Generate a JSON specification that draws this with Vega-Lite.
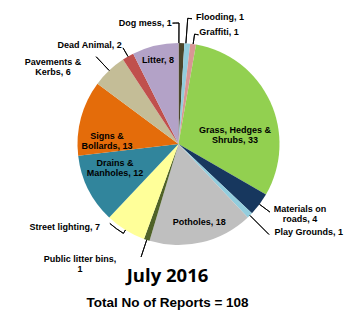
{
  "$schema": "https://vega.github.io/schema/vega-lite/v6.json",
  "width": 333,
  "height": 250,
  "autosize": "none",
  "padding": {"left": 12, "top": 19, "right": 0, "bottom": 46},
  "background": "white",
  "title": {
    "text": "July 2016",
    "subtitle": "Total No of Reports = 108",
    "orient": "bottom",
    "anchor": "middle",
    "dx": -11,
    "offset": -7,
    "font": "Open Sans",
    "fontSize": 18.5,
    "fontWeight": "bold",
    "color": "#000000",
    "subtitleFont": "Liberation Sans",
    "subtitleFontSize": 13.5,
    "subtitleFontWeight": "bold",
    "subtitleColor": "#000000",
    "subtitlePadding": 11
  },
  "data": {
    "values": [
      {"category": "Dog mess", "value": 1, "label": "Dog mess, 1"},
      {"category": "Flooding", "value": 1, "label": "Flooding, 1"},
      {"category": "Graffiti", "value": 1, "label": "Graffiti, 1"},
      {"category": "Grass, Hedges & Shrubs", "value": 33, "label": "Grass, Hedges &\nShrubs, 33"},
      {"category": "Materials on roads", "value": 4, "label": "Materials on\nroads, 4"},
      {"category": "Play Grounds", "value": 1, "label": "Play Grounds, 1"},
      {"category": "Potholes", "value": 18, "label": "Potholes, 18"},
      {"category": "Public litter bins", "value": 1, "label": "Public litter bins,\n1"},
      {"category": "Street lighting", "value": 7, "label": "Street lighting, 7"},
      {"category": "Drains & Manholes", "value": 12, "label": "Drains &\nManholes, 12"},
      {"category": "Signs & Bollards", "value": 13, "label": "Signs &\nBollards, 13"},
      {"category": "Pavements & Kerbs", "value": 6, "label": "Pavements &\nKerbs, 6"},
      {"category": "Dead Animal", "value": 2, "label": "Dead Animal, 2"},
      {"category": "Litter", "value": 8, "label": "Litter, 8"}
    ]
  },
  "transform": [
    {"stack": "value", "groupby": [], "as": ["v0", "v1"]},
    {"calculate": "(datum.v0 + datum.v1) / 2", "as": "mid"}
  ],
  "layer": [
    {
      "mark": {"type": "arc", "radius": 101},
      "encoding": {
        "theta": {"field": "v0", "type": "quantitative", "scale": {"domain": [0, 108], "nice": false, "zero": true}},
        "theta2": {"field": "v1"},
        "color": {
          "field": "category", "type": "nominal", "legend": null,
          "scale": {
            "domain": ["Dog mess", "Flooding", "Graffiti", "Grass, Hedges & Shrubs", "Materials on roads", "Play Grounds", "Potholes", "Public litter bins", "Street lighting", "Drains & Manholes", "Signs & Bollards", "Pavements & Kerbs", "Dead Animal", "Litter"],
            "range": ["#4a452a", "#93cddd", "#d99694", "#92d050", "#17375e", "#93cddd", "#bfbfbf", "#4f6228", "#ffff99", "#31859c", "#e46c0a", "#c4bd97", "#c0504d", "#b3a2c7"]
          }
        }
      }
    },
    {"transform": [{"filter": {"field": "category", "equal": "Dog mess"}}],
     "mark": {"type": "arc", "filled": false, "stroke": "#000000", "strokeWidth": 0.9, "radius": 121, "radius2": 101, "thetaOffset": -0.025, "theta2Offset": -0.025},
     "encoding": {"theta": {"field": "mid", "type": "quantitative"}, "theta2": {"field": "mid"}}},
    {"transform": [{"filter": {"field": "category", "equal": "Dog mess"}}],
     "mark": {"type": "arc", "filled": false, "stroke": "#000000", "strokeWidth": 0.9, "radius": 121, "radius2": 121, "thetaOffset": -0.0785, "theta2Offset": -0.025},
     "encoding": {"theta": {"field": "mid", "type": "quantitative"}, "theta2": {"field": "mid"}}},
    {"transform": [{"filter": {"field": "category", "equal": "Flooding"}}],
     "mark": {"type": "arc", "filled": false, "stroke": "#000000", "strokeWidth": 0.9, "radius": 126, "radius2": 101, "thetaOffset": -0.014, "theta2Offset": -0.014},
     "encoding": {"theta": {"field": "mid", "type": "quantitative"}, "theta2": {"field": "mid"}}},
    {"transform": [{"filter": {"field": "category", "equal": "Flooding"}}],
     "mark": {"type": "arc", "filled": false, "stroke": "#000000", "strokeWidth": 0.9, "radius": 126, "radius2": 126, "thetaOffset": -0.014, "theta2Offset": 0.02},
     "encoding": {"theta": {"field": "mid", "type": "quantitative"}, "theta2": {"field": "mid"}}},
    {"transform": [{"filter": {"field": "category", "equal": "Graffiti"}}],
     "mark": {"type": "arc", "filled": false, "stroke": "#000000", "strokeWidth": 0.9, "radius": 111, "radius2": 101},
     "encoding": {"theta": {"field": "mid", "type": "quantitative"}, "theta2": {"field": "mid"}}},
    {"transform": [{"filter": {"field": "category", "equal": "Graffiti"}}],
     "mark": {"type": "arc", "filled": false, "stroke": "#000000", "strokeWidth": 0.9, "radius": 111, "radius2": 111, "thetaOffset": 0, "theta2Offset": 0.036},
     "encoding": {"theta": {"field": "mid", "type": "quantitative"}, "theta2": {"field": "mid"}}},
    {"transform": [{"filter": {"field": "category", "equal": "Materials on roads"}}],
     "mark": {"type": "arc", "filled": false, "stroke": "#000000", "strokeWidth": 0.9, "radius": 114, "radius2": 101},
     "encoding": {"theta": {"field": "mid", "type": "quantitative"}, "theta2": {"field": "mid"}}},
    {"transform": [{"filter": {"field": "category", "equal": "Play Grounds"}}],
     "mark": {"type": "arc", "filled": false, "stroke": "#000000", "strokeWidth": 0.9, "radius": 128, "radius2": 101},
     "encoding": {"theta": {"field": "mid", "type": "quantitative"}, "theta2": {"field": "mid"}}},
    {"transform": [{"filter": {"field": "category", "equal": "Public litter bins"}}],
     "mark": {"type": "arc", "filled": false, "stroke": "#000000", "strokeWidth": 0.9, "radius": 119, "radius2": 101},
     "encoding": {"theta": {"field": "mid", "type": "quantitative"}, "theta2": {"field": "mid"}}},
    {"transform": [{"filter": {"field": "category", "equal": "Street lighting"}}],
     "mark": {"type": "arc", "filled": false, "stroke": "#000000", "strokeWidth": 0.9, "radius": 105, "radius2": 101},
     "encoding": {"theta": {"field": "mid", "type": "quantitative"}, "theta2": {"field": "mid"}}},
    {"transform": [{"filter": {"field": "category", "equal": "Street lighting"}}],
     "mark": {"type": "arc", "filled": false, "stroke": "#000000", "strokeWidth": 0.9, "radius": 105, "radius2": 105, "thetaOffset": 0, "theta2Offset": 0.16},
     "encoding": {"theta": {"field": "mid", "type": "quantitative"}, "theta2": {"field": "mid"}}},
    {"transform": [{"filter": {"field": "category", "equal": "Pavements & Kerbs"}}],
     "mark": {"type": "arc", "filled": false, "stroke": "#000000", "strokeWidth": 0.9, "radius": 120, "radius2": 101},
     "encoding": {"theta": {"field": "mid", "type": "quantitative"}, "theta2": {"field": "mid"}}},
    {"transform": [{"filter": {"field": "category", "equal": "Dead Animal"}}],
     "mark": {"type": "arc", "filled": false, "stroke": "#000000", "strokeWidth": 0.9, "radius": 111, "radius2": 101},
     "encoding": {"theta": {"field": "mid", "type": "quantitative"}, "theta2": {"field": "mid"}}},
    {"transform": [{"filter": {"field": "category", "equal": "Dog mess"}}],
     "mark": {"type": "text", "radius": 121, "align": "right", "dx": -10.3, "dy": -0.5},
     "encoding": {"theta": {"field": "mid", "type": "quantitative"}, "text": {"field": "label"}}},
    {"transform": [{"filter": {"field": "category", "equal": "Flooding"}}],
     "mark": {"type": "text", "radius": 126, "align": "left", "dx": 6.5, "dy": -1.8},
     "encoding": {"theta": {"field": "mid", "type": "quantitative"}, "text": {"field": "label"}}},
    {"transform": [{"filter": {"field": "category", "equal": "Graffiti"}}],
     "mark": {"type": "text", "radius": 111, "align": "left", "dx": 4.7, "dy": -1.9},
     "encoding": {"theta": {"field": "mid", "type": "quantitative"}, "text": {"field": "label"}}},
    {"transform": [{"filter": {"field": "category", "equal": "Grass, Hedges & Shrubs"}}],
     "mark": {"type": "text", "radius": 62, "align": "center", "dx": 0.3, "dy": 12.2},
     "encoding": {"theta": {"field": "mid", "type": "quantitative"}, "text": {"field": "label"}}},
    {"transform": [{"filter": {"field": "category", "equal": "Materials on roads"}}],
     "mark": {"type": "text", "radius": 112, "align": "center", "dx": 31.7, "dy": -1.4},
     "encoding": {"theta": {"field": "mid", "type": "quantitative"}, "text": {"field": "label"}}},
    {"transform": [{"filter": {"field": "category", "equal": "Play Grounds"}}],
     "mark": {"type": "text", "radius": 128, "align": "left", "dx": 5.5, "dy": -2.2},
     "encoding": {"theta": {"field": "mid", "type": "quantitative"}, "text": {"field": "label"}}},
    {"transform": [{"filter": {"field": "category", "equal": "Potholes"}}],
     "mark": {"type": "text", "radius": 80, "align": "center", "dx": 2.4, "dy": 0.5},
     "encoding": {"theta": {"field": "mid", "type": "quantitative"}, "text": {"field": "label"}}},
    {"transform": [{"filter": {"field": "category", "equal": "Public litter bins"}}],
     "mark": {"type": "text", "radius": 118, "align": "center", "dx": -61.4, "dy": 2.5},
     "encoding": {"theta": {"field": "mid", "type": "quantitative"}, "text": {"field": "label"}}},
    {"transform": [{"filter": {"field": "category", "equal": "Street lighting"}}],
     "mark": {"type": "text", "radius": 101, "align": "right", "dx": -25.5, "dy": -2.7},
     "encoding": {"theta": {"field": "mid", "type": "quantitative"}, "text": {"field": "label"}}},
    {"transform": [{"filter": {"field": "category", "equal": "Drains & Manholes"}}],
     "mark": {"type": "text", "radius": 71, "align": "center", "dx": 0, "dy": -12.6},
     "encoding": {"theta": {"field": "mid", "type": "quantitative"}, "text": {"field": "label"}}},
    {"transform": [{"filter": {"field": "category", "equal": "Signs & Bollards"}}],
     "mark": {"type": "text", "radius": 74, "align": "center", "dx": 0, "dy": 11.2},
     "encoding": {"theta": {"field": "mid", "type": "quantitative"}, "text": {"field": "label"}}},
    {"transform": [{"filter": {"field": "category", "equal": "Pavements & Kerbs"}}],
     "mark": {"type": "text", "radius": 125, "align": "center", "dx": -39.7, "dy": 9.4},
     "encoding": {"theta": {"field": "mid", "type": "quantitative"}, "text": {"field": "label"}}},
    {"transform": [{"filter": {"field": "category", "equal": "Dead Animal"}}],
     "mark": {"type": "text", "radius": 111, "align": "right", "dx": -1.3, "dy": -2.9},
     "encoding": {"theta": {"field": "mid", "type": "quantitative"}, "text": {"field": "label"}}},
    {"transform": [{"filter": {"field": "category", "equal": "Litter"}}],
     "mark": {"type": "text", "radius": 86, "align": "center", "dx": -0.7, "dy": 0},
     "encoding": {"theta": {"field": "mid", "type": "quantitative"}, "text": {"field": "label"}}}
  ],
  "config": {
    "view": {"stroke": null},
    "text": {"font": "Liberation Sans", "fontSize": 9, "fontWeight": "bold", "baseline": "middle", "lineBreak": "\n", "lineHeight": 10, "color": "#000000"}
  }
}
